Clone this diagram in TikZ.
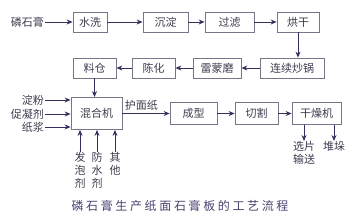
\documentclass[tikz,border=0pt]{standalone}
\usepackage{fontspec}
\newfontfamily\cjk{Noto Sans CJK SC}
\usepackage{xcolor}
\usetikzlibrary{arrows.meta,positioning,calc}

\definecolor{boxline}{HTML}{76768A}
\definecolor{arrowcol}{HTML}{3B2C5E}
\definecolor{txtcol}{HTML}{3E3C4E}
\definecolor{capcol}{HTML}{4C4070}

\begin{document}
\begin{tikzpicture}[
    x=1pt, y=-1pt,
    block/.style={rectangle, draw=boxline, line width=0.8pt, fill=white, minimum height=20, inner sep=0pt, text=txtcol, font=\cjk\fontsize{11}{11}\selectfont},
    label/.style={inner sep=1pt, text=txtcol, font=\cjk\fontsize{11}{11}\selectfont},
    vlabel/.style={inner sep=0pt, text=txtcol, align=center, font=\cjk\fontsize{11}{13}\selectfont},
    arrow/.style={-{Stealth[length=6pt, width=5pt]}, draw=arrowcol, fill=arrowcol, line width=0.9pt},
]
    \useasboundingbox (0,0) rectangle (362,217);

    % Top row
    \node[label, anchor=east] (lsg) at (45,22) {磷石膏};
    \node[block, minimum width=34] (shuixi) at (90,22) {水洗};
    \node[block, minimum width=45] (chendian) at (165.5,22) {沉淀};
    \node[block, minimum width=49] (guolv) at (229.5,22) {过滤};
    \node[block, minimum width=42] (honggan) at (298,22) {烘干};

    \draw[arrow] (lsg) -- (shuixi);
    \draw[arrow] (shuixi) -- (chendian);
    \draw[arrow] (chendian) -- (guolv);
    \draw[arrow] (guolv) -- (honggan);

    % Second row, right to left
    \node[block, minimum width=64] (chaoguo) at (292,68) {连续炒锅};
    \node[block, minimum width=48] (leimeng) at (217,68) {雷蒙磨};
    \node[block, minimum width=43] (chenhua) at (153.5,68) {陈化};
    \node[block, minimum width=43] (liaocang) at (94.5,68) {料仓};

    \draw[arrow] (honggan) -- (honggan |- chaoguo.north);
    \draw[arrow] (chaoguo) -- (leimeng);
    \draw[arrow] (leimeng) -- (chenhua);
    \draw[arrow] (chenhua) -- (liaocang);

    % Mixer and its inputs
    \node[block, minimum width=51, minimum height=32] (hunhe) at (96.5,113.5) {混合机};
    \node[label, anchor=east] (dianfen) at (45,100) {淀粉};
    \node[label, anchor=east] (cuning) at (45,114) {促凝剂};
    \node[label, anchor=east] (zhijiang) at (45,127) {纸浆};

    \draw[arrow] (liaocang.south) -- (liaocang.south |- hunhe.north);
    \draw[arrow] (dianfen.east) -- (dianfen.east -| hunhe.west);
    \draw[arrow] (cuning.east) -- (cuning.east -| hunhe.west);
    \draw[arrow] (zhijiang.east) -- (zhijiang.east -| hunhe.west);

    \node[vlabel, anchor=north] (fapao) at (80,152) {发\\泡\\剂};
    \node[vlabel, anchor=north] (fangshui) at (97,152) {防\\水\\剂};
    \node[vlabel, anchor=north] (qita) at (115,152) {其\\他};

    \draw[arrow] (fapao.north) -- (fapao.north |- hunhe.south);
    \draw[arrow] (fangshui.north) -- (fangshui.north |- hunhe.south);
    \draw[arrow] (qita.north) -- (qita.north |- hunhe.south);

    % Third row
    \node[block, minimum width=47, minimum height=22] (chengxing) at (193.5,113.5) {成型};
    \node[block, minimum width=43, minimum height=22] (qiege) at (256.5,113.5) {切割};
    \node[block, minimum width=49, minimum height=22] (ganzao) at (316.5,113.5) {干燥机};

    \draw[arrow] (hunhe.east) -- (chengxing.west) node[pos=0.4, above, label, yshift=2pt] (humian) {护面纸};
    \draw[arrow] (chengxing) -- (qiege);
    \draw[arrow] (qiege) -- (ganzao);

    \node[vlabel, anchor=north] (xuanpian) at (304,141) {选片\\输送};
    \node[vlabel, anchor=north] (duiduo) at (334,141) {堆垛};

    \draw[arrow] (ganzao.south -| xuanpian.north) -- (xuanpian.north);
    \draw[arrow] (ganzao.south -| duiduo.north) -- (duiduo.north);

    % Caption
    \node[text=capcol, font=\cjk\addfontfeatures{LetterSpace=22}\fontsize{12}{12}\selectfont] (caption) at (180,206) {磷石膏生产纸面石膏板的工艺流程};
\end{tikzpicture}
\end{document}
